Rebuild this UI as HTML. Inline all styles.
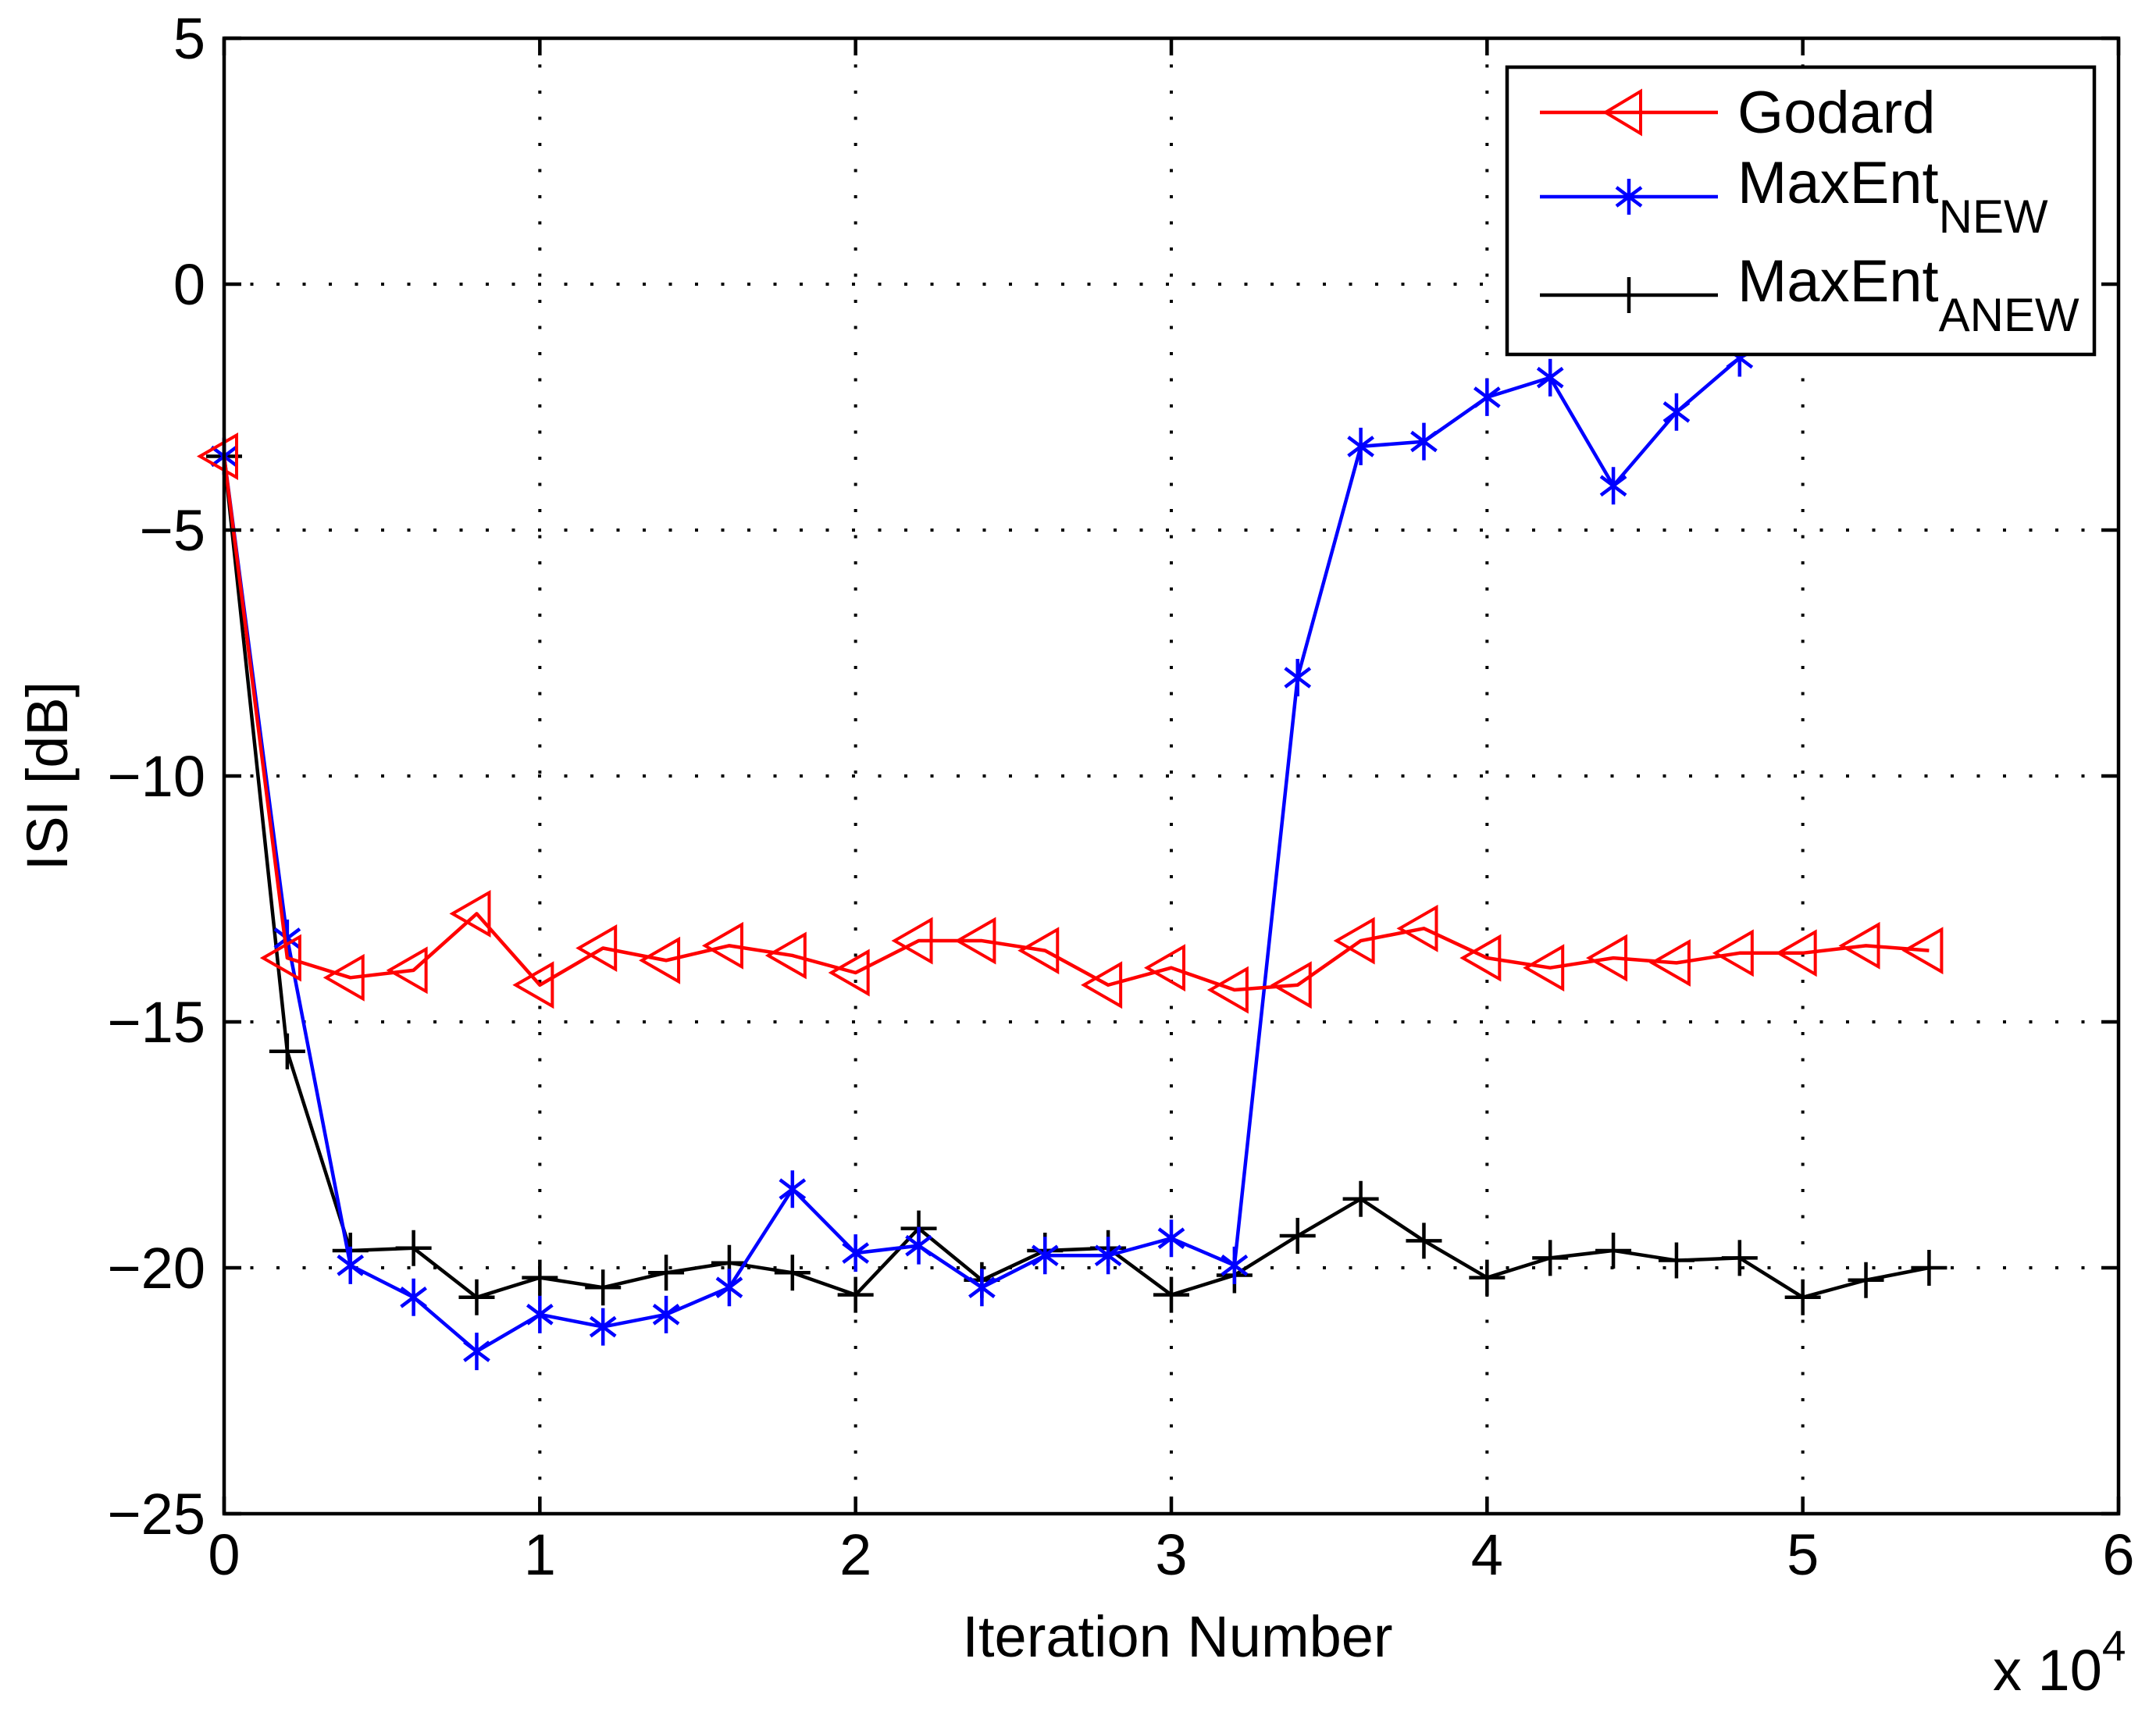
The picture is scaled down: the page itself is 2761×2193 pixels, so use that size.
<!DOCTYPE html>
<html><head><meta charset="utf-8"><style>
html,body{margin:0;padding:0;background:#fff;}
svg{display:block;font-family:"Liberation Sans",Arial,sans-serif;}
</style></head><body>
<svg id="chart" width="2761" height="2193" viewBox="0 0 2761 2193" xmlns="http://www.w3.org/2000/svg">
<rect width="2761" height="2193" fill="#fff"/>
<g id="grid"></g>
<g id="series"></g>
<rect x="287" y="49" width="2426" height="1890" fill="none" stroke="#000" stroke-width="4.5"/>
<g id="ticks"></g>
<text x="1508" y="2122" font-size="74" text-anchor="middle">Iteration Number</text>
<text x="2552" y="2165" font-size="74">x 10<tspan font-size="55" dy="-38">4</tspan></text>
<text transform="translate(86,994) rotate(-90)" font-size="74" text-anchor="middle">ISI [dB]</text>
<g id="legend">
<rect x="1930" y="86" width="752" height="368" fill="#fff" stroke="#000" stroke-width="4.5"/>
<g>
<line x1="1972" y1="144" x2="2200" y2="144" stroke="#f00" stroke-width="4.5"/>
<polygon points="2056,144 2101,117 2101,171" fill="none" stroke="#f00" stroke-width="4"/>
<text x="2225" y="170" font-size="76">Godard</text></g>
<g>
<line x1="1972" y1="252" x2="2200" y2="252" stroke="#00f" stroke-width="4.5"/>
<path d="M2086,229V275M2070,240L2102,264M2070,264L2102,240" stroke="#00f" stroke-width="4.5"/>
<text x="2225" y="260" font-size="76">MaxEnt<tspan font-size="60" dy="38">NEW</tspan></text></g>
<g>
<line x1="1972" y1="378" x2="2200" y2="378" stroke="#000" stroke-width="4.5"/>
<path d="M2086,355V401" stroke="#000" stroke-width="4.5"/>
<text x="2225" y="386" font-size="76">MaxEnt<tspan font-size="60" dy="38">ANEW</tspan></text></g>
</g>
</svg>
<script>
const xValues=[0,2000,4000,6000,8000,10000,12000,14000,16000,18000,20000,22000,24000,26000,28000,30000,32000,34000,36000,38000,40000,42000,44000,46000,48000,50000,52000,54000];
const godard=[-3.5,-13.7,-14.1,-13.95,-12.8,-14.25,-13.5,-13.75,-13.45,-13.65,-14.0,-13.35,-13.35,-13.55,-14.25,-13.9,-14.35,-14.25,-13.35,-13.1,-13.7,-13.9,-13.7,-13.8,-13.6,-13.6,-13.45,-13.55];
const maxentNew=[-3.5,-13.3,-19.95,-20.6,-21.7,-20.95,-21.2,-20.95,-20.4,-18.4,-19.7,-19.55,-20.4,-19.75,-19.75,-19.4,-19.95,-8.0,-3.3,-3.2,-2.3,-1.9,-4.1,-2.6,-1.5,-0.8,-1.0,-0.5];
const maxentAnew=[-3.5,-15.6,-19.65,-19.6,-20.6,-20.2,-20.4,-20.1,-19.9,-20.1,-20.55,-19.2,-20.25,-19.65,-19.6,-20.55,-20.15,-19.35,-18.6,-19.45,-20.2,-19.8,-19.65,-19.85,-19.8,-20.6,-20.25,-20.0];
const xTicks=[0,1,2,3,4,5,6];
const yTicks=[5,0,-5,-10,-15,-20,-25];
const L=287,R=2713,T=49,B=1939;
function sx(v){return L+(v-0)/60000*(R-L);}
function sy(v){return T+(5-v)/30*(B-T);}
const NS='http://www.w3.org/2000/svg';
function mk(tag,attrs,parent){const e=document.createElementNS(NS,tag);for(const k in attrs)e.setAttribute(k,attrs[k]);parent.appendChild(e);return e;}
const grid=document.getElementById('grid'),ticks=document.getElementById('ticks'),series=document.getElementById('series');
xTicks.forEach(t=>{const x=sx(t*10000);
 if(t>0&&t<6){const g=mk('line',{x1:x,y1:T,x2:x,y2:B,stroke:'#000','stroke-width':4,'stroke-dasharray':'4 29.5'},grid);
 
 }
 const a=mk('path',{d:`M${x},${B}v-22M${x},${T}v22`,stroke:'#000','stroke-width':4.5},ticks);
 
 
 const tx=mk('text',{x:x,y:B+78,'font-size':74,'text-anchor':'middle'},ticks);tx.textContent=t;
 
 
});
yTicks.forEach(t=>{const y=sy(t);
 if(t<5&&t>-25){const g=mk('line',{x1:L,y1:y,x2:R,y2:y,stroke:'#000','stroke-width':4,'stroke-dasharray':'4 29.5'},grid);
 
 }
 const a=mk('path',{d:`M${L},${y}h22M${R},${y}h-22`,stroke:'#000','stroke-width':4.5},ticks);
 
 
 const tx=mk('text',{x:L-24,y:y+26,'font-size':74,'text-anchor':'end'},ticks);tx.textContent=(t<0?'\u2212'+(-t):t);
 
 
});
function drawSeries(vals,color,name,marker){
 const g=mk('g',{},series);
 
 
 const pts=vals.map((v,i)=>sx(xValues[i])+','+sy(v)).join(' ');
 mk('polyline',{points:pts,fill:'none',stroke:color,'stroke-width':4.5,'stroke-linejoin':'round'},g);
 vals.forEach((v,i)=>{const x=sx(xValues[i]),y=sy(v);let d;
  if(marker==='tri'){const m=mk('polygon',{points:`${x-31},${y} ${x+16},${y-27} ${x+16},${y+27}`,fill:'none',stroke:color,'stroke-width':4},g);
   
   return;}
  if(marker==='star')d=`M${x},${y-24}V${y+24}M${x-16},${y-12}L${x+16},${y+12}M${x-16},${y+12}L${x+16},${y-12}`;
  else d=`M${x-23},${y}H${x+23}M${x},${y-23}V${y+23}`;
  const m=mk('path',{d:d,stroke:color,'stroke-width':4.5},g);
  
  
 });
}
drawSeries(maxentAnew,'#000','series-maxent-anew','plus');
drawSeries(maxentNew,'#00f','series-maxent-new','star');
drawSeries(godard,'#f00','series-godard','tri');
document.getElementById('chart').appendChild(document.getElementById('legend'));
</script>
</body></html>
